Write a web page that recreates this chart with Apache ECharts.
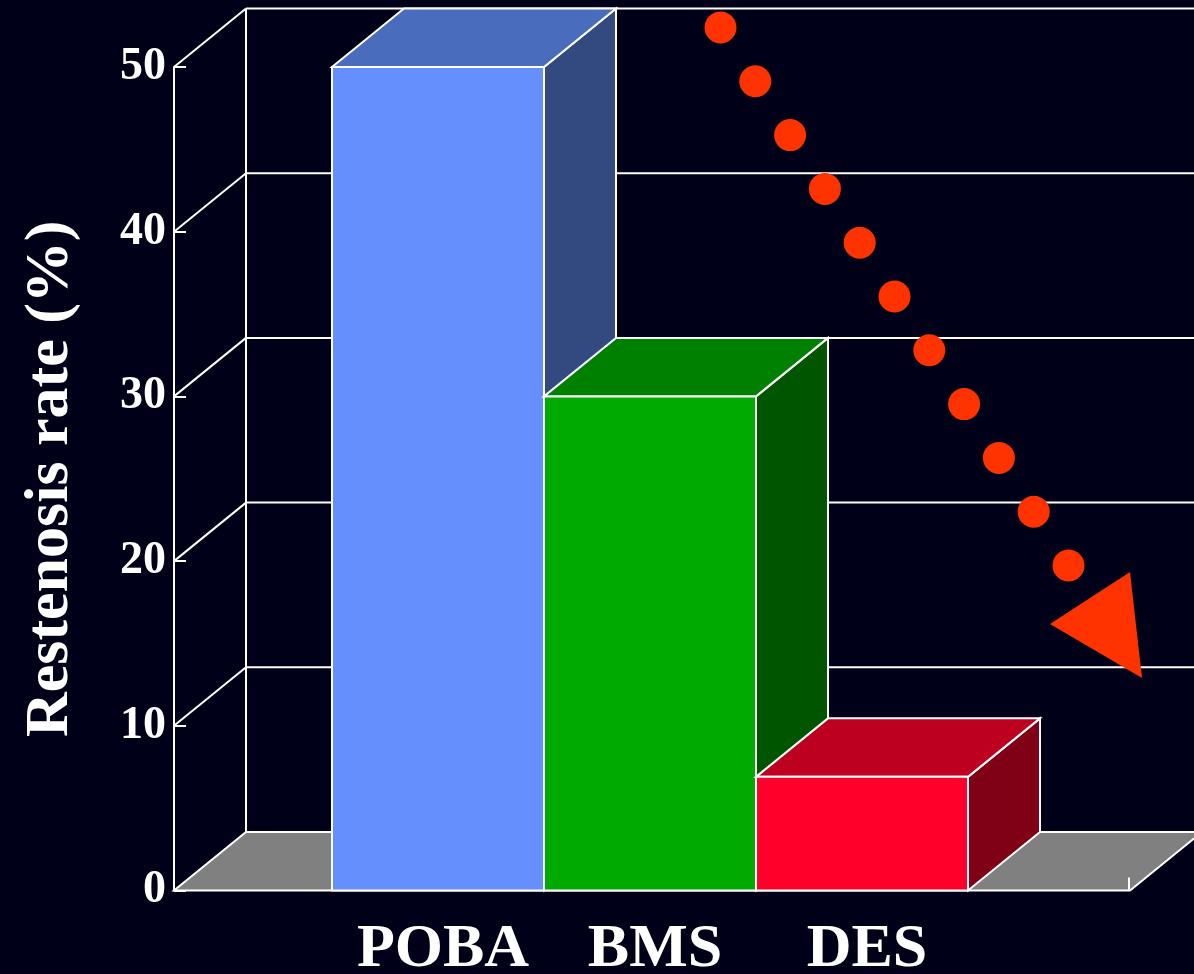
<!DOCTYPE html>
<html>
<head>
<meta charset="utf-8">
<title>Restenosis rate</title>
<script src="https://cdn.jsdelivr.net/npm/echarts@6/dist/echarts.min.js"></script>
<style>
  html, body { margin: 0; padding: 0; background: #000018; }
  #chart { width: 1194px; height: 974px; }
</style>
</head>
<body>
<div id="chart"></div>
<script>
// Data
const categories = ['POBA', 'BMS', 'DES'];
const restenosisRate = [50, 30, 6.9];
const yMin = 0;
const yMax = 50;
const yStep = 10;
const gridValues = [0, 10, 20, 30, 40, 50];

// Face colours per bar: front, top, side
const barFront = ['#648ffd', '#00aa00', '#ff002a'];
const barTop = ['#4a6cbd', '#008000', '#bd0020'];
const barSide = ['#334a80', '#005500', '#800015'];

// 3D depth projection and frame layout
const DX = 72;
const DY = -58.5;
const AXIS_OFFSET = 158;   // value axis sits this far left of the first bar
const FLOOR_EXT = 162;     // floor continues this far right of the last bar
const EDGE = '#ffffff';
const FLOOR = '#808080';
const ARROW = '#ff3300';

const chart = echarts.init(document.getElementById('chart'), null, { renderer: 'canvas' });

// Back wall, side diagonals and the floor
function renderFrame(params, api) {
  const cs = params.coordSys;
  const v = api.value(1);
  const y = api.coord([0, v])[1];
  const axisX = cs.x - AXIS_OFFSET;
  const rightX = cs.x + cs.width + FLOOR_EXT;
  const children = [];
  const line = (x1, y1, x2, y2) => ({
    type: 'line',
    shape: { x1, y1, x2, y2 },
    style: { stroke: EDGE, lineWidth: 2 }
  });
  if (v === yMin) {
    children.push({
      type: 'polygon',
      shape: { points: [[axisX, y], [rightX, y], [rightX + DX, y + DY], [axisX + DX, y + DY]] },
      style: { fill: FLOOR, stroke: EDGE, lineWidth: 2 }
    });
    const yTop = api.coord([0, yMax])[1];
    children.push(line(axisX + DX, y + DY, axisX + DX, yTop + DY));
    children.push(line(rightX - 1, y, rightX - 1, y - 13));
  } else {
    children.push(line(axisX, y, axisX + DX, y + DY));
    children.push(line(axisX + DX, y + DY, rightX + DX + 20, y + DY));
  }
  return { type: 'group', children };
}

// Extruded bars: side, top and front faces
function renderBar(params, api) {
  const i = api.value(0);
  const v = api.value(1);
  const top = api.coord([i, v]);
  const base = api.coord([i, 0]);
  const w = api.size([1, 0])[0];
  const xL = top[0] - w / 2;
  const xR = top[0] + w / 2;
  const yT = top[1];
  const yB = base[1];
  const edge = { stroke: EDGE, lineWidth: 2, lineJoin: 'miter' };
  return {
    type: 'group',
    children: [
      {
        type: 'polygon',
        shape: { points: [[xR, yT], [xR + DX, yT + DY], [xR + DX, yB + DY], [xR, yB]] },
        style: Object.assign({ fill: barSide[i] }, edge)
      },
      {
        type: 'polygon',
        shape: { points: [[xL, yT], [xL + DX, yT + DY], [xR + DX, yT + DY], [xR, yT]] },
        style: Object.assign({ fill: barTop[i] }, edge)
      },
      {
        type: 'rect',
        shape: { x: xL, y: yT, width: w, height: yB - yT },
        style: Object.assign({ fill: barFront[i] }, edge)
      }
    ]
  };
}

// Dotted downward-trend arrow
const trendDots = 11;
const trendStart = [720.5, 27.5];
const trendStep = [34.8, 53.8];
const trendGraphics = [];
for (let k = 0; k < trendDots; k++) {
  trendGraphics.push({
    type: 'circle',
    shape: { cx: trendStart[0] + k * trendStep[0], cy: trendStart[1] + k * trendStep[1], r: 16 },
    style: { fill: ARROW },
    z: 100
  });
}
trendGraphics.push({
  type: 'polygon',
  shape: { points: [[1050, 624], [1130, 572], [1142, 678]] },
  style: { fill: ARROW },
  z: 100
});

const serif = '"Liberation Serif", "Times New Roman", serif';

chart.setOption({
  backgroundColor: '#000018',
  animation: false,
  grid: { left: 332, right: 226, top: 67, bottom: 83.5, outerBoundsMode: 'none', containLabel: false },
  xAxis: {
    type: 'category',
    data: categories,
    boundaryGap: true,
    axisLine: { show: false },
    axisTick: { show: false },
    splitLine: { show: false },
    axisLabel: {
      interval: 0,
      hideOverlap: false,
      color: '#ffffff',
      fontFamily: serif,
      fontWeight: 'bold',
      fontSize: 62,
      margin: 28,
      padding: [0, 0, 0, 10]
    }
  },
  yAxis: {
    type: 'value',
    min: yMin,
    max: yMax,
    interval: yStep,
    offset: AXIS_OFFSET,
    name: 'Restenosis rate (%)',
    nameLocation: 'middle',
    nameRotate: 90,
    nameGap: 92,
    nameTextStyle: {
      color: '#ffffff',
      fontFamily: serif,
      fontWeight: 'bold',
      fontSize: 62
    },
    axisLine: { show: true, lineStyle: { color: EDGE, width: 2 } },
    axisTick: { show: true, inside: true, length: 12, lineStyle: { color: EDGE, width: 2 } },
    splitLine: { show: false },
    axisLabel: {
      color: '#ffffff',
      fontFamily: serif,
      fontWeight: 'bold',
      fontSize: 46,
      margin: 8
    }
  },
  series: [
    {
      type: 'custom',
      z: 1,
      silent: true,
      renderItem: renderFrame,
      data: gridValues.map(v => [0, v])
    },
    {
      type: 'custom',
      z: 2,
      renderItem: renderBar,
      data: restenosisRate.map((v, i) => [i, v])
    }
  ],
  graphic: trendGraphics
});
</script>
</body>
</html>
